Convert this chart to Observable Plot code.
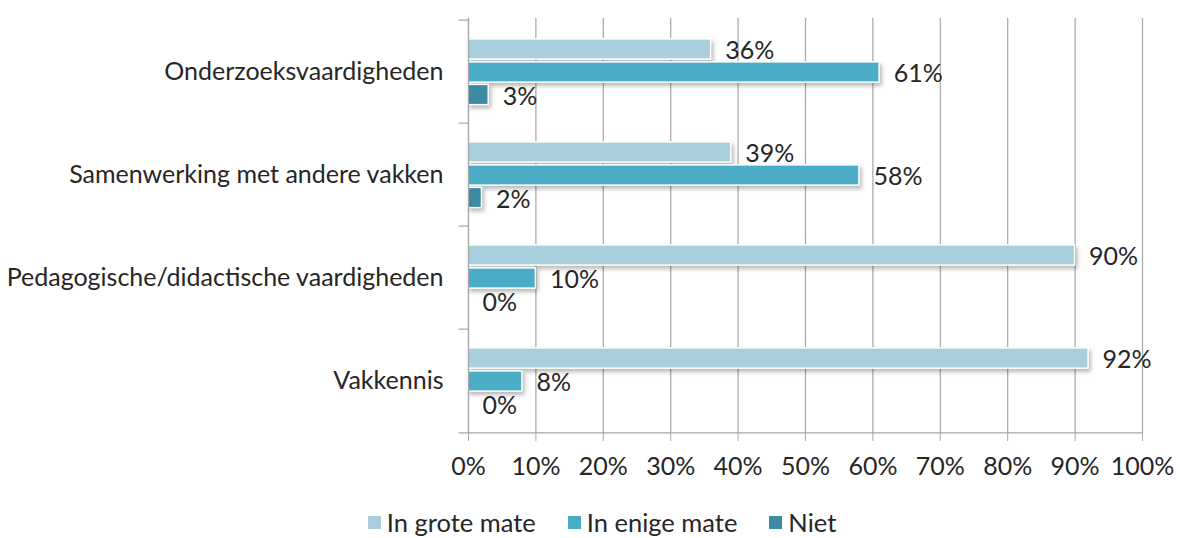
<!DOCTYPE html>
<html>
<head>
<meta charset="utf-8">
<script src="https://cdn.jsdelivr.net/npm/d3@7"></script>
<script src="https://cdn.jsdelivr.net/npm/@observablehq/plot@0.6"></script>
<style>
  html, body { margin: 0; padding: 0; background: #fff; }
  body { width: 1180px; height: 538px; overflow: hidden; font-family: Lato, "Open Sans", sans-serif; }
  #chart svg g[aria-label="bar"] rect { filter: drop-shadow(2px 3px 2px rgba(0,0,0,0.28)); }
  #legend { box-sizing: border-box; display: flex; justify-content: center; align-items: center; height: 40px; padding-top: 8px; font-size: 25.5px; line-height: 30px; color: #262626; padding-left: 24px; }
  #legend .item { display: flex; align-items: center; margin: 0 16px; }
  #legend .sw { width: 13px; height: 13px; margin-right: 6px; }
</style>
</head>
<body>
<div id="chart"></div>
<div id="legend"></div>
<script>
const categories = ["Onderzoeksvaardigheden", "Samenwerking met andere vakken", "Pedagogische/didactische vaardigheden", "Vakkennis"];
const series = ["In grote mate", "In enige mate", "Niet"];
const grote = [36, 39, 90, 92];
const enige = [61, 58, 10, 8];
const niet = [3, 2, 0, 0];
const xTicks = [0, 10, 20, 30, 40, 50, 60, 70, 80, 90, 100];
const colors = ["#a9cfdc", "#4bacc6", "#3b8ba2"];

const valueSets = [grote, enige, niet];
const rows = [];
series.forEach((s, si) => categories.forEach((c, ci) => rows.push({ category: c, series: s, value: valueSets[si][ci] })));

const offsets = [-22.5, 0.5, 23];
const bw = 415 / 4;
const fontSize = 25;

const marks = [
  Plot.ruleX(xTicks, { stroke: "#a6a6a6", strokeWidth: 1.2 }),
  Plot.ruleY(categories, { x1: -1.4, x2: 0, stroke: "#a6a6a6", strokeWidth: 1.2, dy: -bw / 2 }),
  Plot.ruleY([categories[categories.length - 1]], { x1: -1.4, x2: 100, stroke: "#a6a6a6", strokeWidth: 1.2, dy: bw / 2 }),
];
series.forEach((s, si) => {
  const d = rows.filter(r => r.series === s);
  marks.push(Plot.barX(d, { x: "value", y: "category", fill: colors[si], stroke: "white", strokeWidth: 1.5, insetTop: (bw - 21) / 2, insetBottom: (bw - 21) / 2, dy: offsets[si] }));
});
series.forEach((s, si) => {
  const d = rows.filter(r => r.series === s);
  marks.push(Plot.text(d, { x: "value", y: "category", text: r => r.value + "%", textAnchor: "start", dx: 14, dy: offsets[si] + 1.5, fontSize: fontSize, fill: "#262626" }));
});

const chart = Plot.plot({
  width: 1180,
  height: 498,
  marginLeft: 468,
  marginRight: 38,
  marginTop: 18,
  marginBottom: 65,
  style: { fontFamily: "Lato, 'Open Sans', sans-serif", fontSize: fontSize + "px", color: "#262626", background: "white" },
  x: { domain: [0, 100], ticks: xTicks, tickFormat: d => d + "%", label: null, line: false },
  y: { domain: categories, padding: 0, label: null },
  marks: [
    ...marks,
    Plot.axisX({ ticks: xTicks, tickFormat: d => d + "%", tickSize: 8, tickPadding: 16, stroke: "#a6a6a6", fill: "#262626", label: null, fontSize: fontSize }),
    Plot.axisY({ tickSize: 0, tickPadding: 25, label: null, fontSize: fontSize, fill: "#262626" }),
    Plot.ruleX([0], { stroke: "#a6a6a6", strokeWidth: 1.2 })
  ]
});
document.getElementById("chart").appendChild(chart);

const legend = document.getElementById("legend");
series.forEach((s, i) => {
  const it = document.createElement("div");
  it.className = "item";
  const sw = document.createElement("div");
  sw.className = "sw";
  sw.style.background = colors[i];
  it.appendChild(sw);
  it.appendChild(document.createTextNode(s));
  legend.appendChild(it);
});
</script>
</body>
</html>
